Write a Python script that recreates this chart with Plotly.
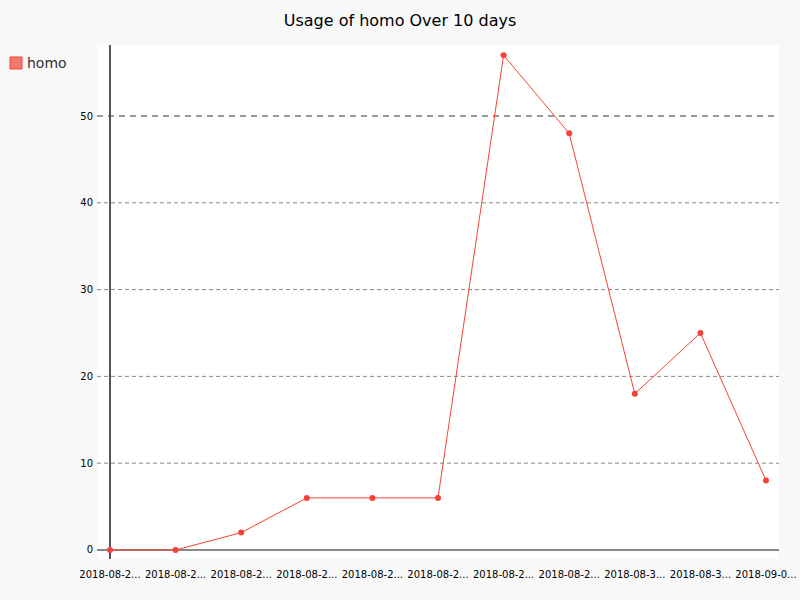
import plotly.graph_objects as go

dates = ["2018-08-22", "2018-08-23", "2018-08-24", "2018-08-25", "2018-08-26",
         "2018-08-27", "2018-08-28", "2018-08-29", "2018-08-30", "2018-08-31", "2018-09-01"]
tick_labels = [d[:9] + "..." for d in dates]
values = [0, 0, 2, 6, 6, 6, 57, 48, 18, 25, 8]
y_ticks = [0, 10, 20, 30, 40, 50]
major_ticks = [50]
series_name = "homo"
title = "Usage of homo Over 10 days"

color = "#F44336"
font_family = "DejaVu Sans, sans-serif"
idx = list(range(len(values)))

W, H = 800, 600
ML, MR, MT, MB = 97, 21, 45, 41
PW = W - ML - MR
PH = H - MT - MB

fig = go.Figure()

# guide lines (pygal style: minor light dashed, major darker dashed)
for t in y_ticks:
    if t == 0:
        continue
    if t in major_ticks:
        ln = dict(color="#333333", width=1, dash="6px,5px")
    else:
        ln = dict(color="#888888", width=1, dash="4px,3px")
    fig.add_shape(type="line", xref="paper", x0=0, x1=1, yref="y", y0=t, y1=t,
                  line=ln, layer="below")

fig.add_trace(go.Scatter(
    x=idx, y=values, mode="lines+markers", name=series_name,
    line=dict(color=color, width=1),
    marker=dict(color=color, size=6),
    showlegend=False, hovertext=dates,
))

def px_to_paper_x(px):
    return (px - ML) / PW

def px_to_paper_y(py):
    return (H - MB - py) / PH

# legend box (pygal-style)
fig.add_shape(type="rect", xref="paper", yref="paper",
              x0=px_to_paper_x(10), x1=px_to_paper_x(22),
              y0=px_to_paper_y(69), y1=px_to_paper_y(57),
              fillcolor="rgba(244,67,54,0.7)", line=dict(color=color, width=1))
fig.add_annotation(text=series_name, xref="paper", yref="paper",
                   x=px_to_paper_x(25), y=px_to_paper_y(62.5),
                   xanchor="left", yanchor="middle", showarrow=False,
                   font=dict(size=14, color="#333333"))

fig.update_layout(
    width=W, height=H,
    paper_bgcolor="#f8f8f8", plot_bgcolor="#ffffff",
    margin=dict(l=ML, r=MR, t=MT, b=MB, autoexpand=False),
    font=dict(family=font_family, color="#000000"),
    title=dict(text=title, x=0.5, xref="container", xanchor="center",
               y=1 - 20 / H, yref="container", yanchor="middle",
               font=dict(size=16, color="#000000")),
    showlegend=False,
)
fig.update_xaxes(
    range=[-0.198, 10.198], tickvals=idx, ticktext=tick_labels, tickangle=0,
    showgrid=False, zeroline=True, zerolinecolor="#555555", zerolinewidth=1.5,
    tickfont=dict(size=10), ticks="", ticklabelstandoff=8, showline=False,
    automargin=False,
)
fig.update_yaxes(
    range=[-1.04, 58.18], tickvals=y_ticks,
    showgrid=False,
    zeroline=True, zerolinecolor="#888888", zerolinewidth=1.5,
    tickfont=dict(size=10), ticks="", ticklabelstandoff=3, showline=False,
    automargin=False,
)

fig.write_html(
    "out.html",
    config={"displayModeBar": False},
    post_script="document.body.style.margin='0';document.body.style.background='#f8f8f8';",
)
